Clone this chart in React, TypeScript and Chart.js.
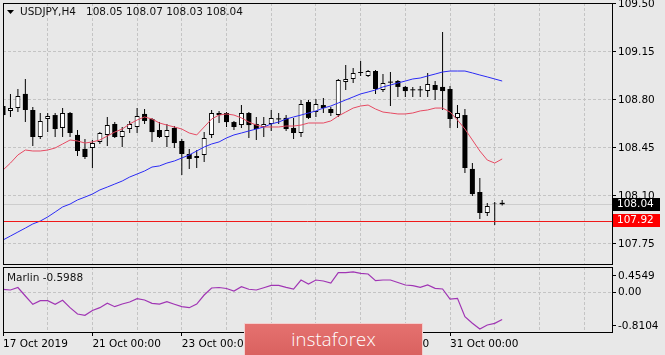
import React, { useEffect, useRef } from 'react';
import { Chart, registerables } from 'chart.js';

Chart.register(...registerables);

// ---------- data ----------
const symbolName = 'USDJPY,H4';
const headerOHLC = ['108.05', '108.07', '108.03', '108.04'];
const bidPrice = 108.04;
const levelPrice = 107.92;
const indicatorName = 'Marlin';
const indicatorLast = '-0.5988';

const opens = [
  108.756, 108.72, 108.741, 108.844, 108.727, 108.53, 108.661, 108.69, 108.596, 108.705,
  108.545, 108.443, 108.45, 108.494, 108.545, 108.625, 108.53, 108.588, 108.603, 108.698,
  108.661, 108.581, 108.53, 108.596, 108.501, 108.406, 108.377, 108.399, 108.545, 108.705,
  108.705, 108.639, 108.617, 108.705, 108.625, 108.603, 108.625, 108.661, 108.669, 108.596,
  108.559, 108.785, 108.712, 108.763, 108.734, 108.69, 108.931, 108.953, 109.004, 108.975,
  109.011, 108.873, 108.931, 108.938, 108.895, 108.875, 108.873, 108.865, 108.909, 108.895,
  108.88, 108.669, 108.69, 108.297, 108.129, 107.976, 108.041, 108.05,
];
const highs = [
  108.771, 108.844, 108.88, 108.953, 108.749, 108.705, 108.705, 108.705, 108.741, 108.712,
  108.581, 108.515, 108.508, 108.566, 108.676, 108.639, 108.603, 108.647, 108.741, 108.734,
  108.669, 108.639, 108.625, 108.61, 108.515, 108.443, 108.435, 108.566, 108.727, 108.72,
  108.712, 108.647, 108.763, 108.712, 108.676, 108.676, 108.727, 108.705, 108.69, 108.669,
  108.8, 108.8, 108.807, 108.814, 108.749, 108.953, 109.055, 109.033, 109.084, 109.019,
  109.019, 108.989, 109.004, 108.946, 108.902, 108.895, 108.902, 108.997, 108.938, 109.296,
  108.902, 108.763, 108.734, 108.34, 108.231, 108.049, 108.056, 108.07,
];
const lows = [
  108.676, 108.676, 108.712, 108.639, 108.464, 108.515, 108.566, 108.53, 108.53, 108.53,
  108.391, 108.37, 108.304, 108.479, 108.464, 108.523, 108.457, 108.559, 108.559, 108.625,
  108.494, 108.523, 108.457, 108.45, 108.253, 108.297, 108.304, 108.348, 108.523, 108.632,
  108.603, 108.581, 108.596, 108.523, 108.508, 108.53, 108.574, 108.625, 108.574, 108.515,
  108.53, 108.661, 108.676, 108.705, 108.683, 108.676, 108.873, 108.924, 108.975, 108.968,
  108.844, 108.858, 108.756, 108.822, 108.822, 108.822, 108.822, 108.822, 108.8, 108.727,
  108.596, 108.596, 108.267, 108.1, 107.932, 107.954, 107.888, 108.03,
];
const closes = [
  108.69, 108.741, 108.829, 108.727, 108.53, 108.647, 108.683, 108.588, 108.705, 108.559,
  108.428, 108.384, 108.486, 108.559, 108.617, 108.53, 108.574, 108.625, 108.683, 108.647,
  108.566, 108.53, 108.581, 108.486, 108.406, 108.37, 108.391, 108.523, 108.705, 108.69,
  108.639, 108.603, 108.705, 108.617, 108.588, 108.625, 108.669, 108.663, 108.588, 108.559,
  108.771, 108.669, 108.771, 108.741, 108.705, 108.946, 108.953, 108.997, 108.997, 109.011,
  108.88, 108.924, 108.929, 108.895, 108.865, 108.873, 108.875, 108.916, 108.873, 108.865,
  108.661, 108.705, 108.304, 108.114, 107.976, 108.027, 108.045, 108.04,
];
const maFast = [
  108.289, 108.34, 108.399, 108.435, 108.428, 108.428, 108.435, 108.45, 108.479, 108.508,
  108.501, 108.486, 108.494, 108.508, 108.537, 108.566, 108.588, 108.625, 108.654, 108.676,
  108.661, 108.632, 108.617, 108.603, 108.588, 108.559, 108.545, 108.603, 108.661, 108.69,
  108.698, 108.69, 108.669, 108.639, 108.617, 108.603, 108.603, 108.603, 108.61, 108.61,
  108.617, 108.632, 108.632, 108.632, 108.647, 108.683, 108.712, 108.741, 108.756, 108.763,
  108.734, 108.712, 108.705, 108.698, 108.698, 108.705, 108.72, 108.727, 108.741, 108.741,
  108.712, 108.654, 108.588, 108.508, 108.428, 108.362, 108.34, 108.37,
];
const maSlow = [
  107.779, 107.808, 107.837, 107.866, 107.896, 107.917, 107.947, 107.983, 108.02, 108.041,
  108.071, 108.092, 108.114, 108.144, 108.165, 108.187, 108.209, 108.238, 108.26, 108.282,
  108.311, 108.319, 108.34, 108.355, 108.377, 108.399, 108.428, 108.457, 108.479, 108.494,
  108.523, 108.545, 108.559, 108.574, 108.588, 108.603, 108.625, 108.639, 108.661, 108.676,
  108.69, 108.705, 108.72, 108.741, 108.756, 108.778, 108.8, 108.822, 108.844, 108.858,
  108.873, 108.895, 108.909, 108.924, 108.938, 108.953, 108.96, 108.975, 108.989, 109.004,
  109.011, 109.011, 109.011, 108.997, 108.982, 108.968, 108.953, 108.938,
];
const marlin = [
  0.069, 0.053, 0.108, -0.08, -0.263, -0.184, -0.184, -0.263, -0.175, -0.338,
  -0.478, -0.507, -0.4, -0.338, -0.241, -0.316, -0.257, -0.212, -0.139, -0.168,
  -0.241, -0.257, -0.206, -0.263, -0.316, -0.338, -0.257, -0.058, 0.097, 0.108,
  0.086, 0.031, 0.126, 0.069, 0.053, 0.104, 0.157, 0.157, 0.113, 0.075,
  0.274, 0.186, 0.274, 0.252, 0.208, 0.436, 0.436, 0.4549, 0.423, 0.407,
  0.259, 0.274, 0.274, 0.219, 0.164, 0.148, 0.113, 0.164, 0.091, 0.075,
  -0.146, -0.131, -0.538, -0.684, -0.8104, -0.721, -0.684, -0.5988,
];

const timeTickBars = [0, 12, 24, 36, 48, 60];
const timeTickLabels = ['17 Oct 2019', '21 Oct 00:00', '23 Oct 00:00', '25 Oct 00:00', '29 Oct 00:00', '31 Oct 00:00'];
const gridBars = [0, 6, 12, 18, 24, 30, 36, 42, 48, 54, 60, 66, 72, 78];
const priceTicks = [107.75, 108.1, 108.45, 108.8, 109.15, 109.5];
const marlinTickValues = [0.363, 0, -0.743];
const marlinTickLabels = ['0.4549', '0.00', '-0.8104'];

// ---------- view settings ----------
const X_MAX = 81.74;
const PRICE_MIN = 107.604;
const PRICE_MAX = 109.507;
const MARLIN_MIN = -0.876;
const MARLIN_MAX = 0.562;

const FONT = "'DejaVu Sans', sans-serif";
const FONT_SIZE = 10.5;
const BG = '#e8e8e8';
const GRID = '#c4c4c4';
const RED_MA = '#e64a62';
const BLUE_MA = '#2b2bf5';
const MARLIN_COLOR = '#a035b4';

const barIdx = opens.map((_, i) => i);

function frame(chart: any) {
  const { ctx, chartArea: ca } = chart;
  ctx.save();
  ctx.strokeStyle = '#000';
  ctx.lineWidth = 1;
  ctx.strokeRect(ca.left + 0.5, ca.top + 0.5, ca.right - ca.left, ca.bottom - ca.top);
  ctx.restore();
}

const mainDecor = {
  id: 'mainDecor',
  beforeDatasetsDraw(chart: any) {
    const { ctx, chartArea: ca, scales } = chart;
    const yb = Math.round(scales.y.getPixelForValue(bidPrice)) + 0.5;
    ctx.save();
    ctx.strokeStyle = '#cdcdcd';
    ctx.lineWidth = 1;
    ctx.beginPath();
    ctx.moveTo(ca.left, yb);
    ctx.lineTo(ca.right, yb);
    ctx.stroke();
    ctx.restore();
  },
  afterDatasetsDraw(chart: any) {
    const { ctx, chartArea: ca, scales } = chart;
    const yl = Math.round(scales.y.getPixelForValue(levelPrice)) + 0.5;
    ctx.save();
    ctx.strokeStyle = '#f01818';
    ctx.lineWidth = 1;
    ctx.beginPath();
    ctx.moveTo(ca.left, yl);
    ctx.lineTo(ca.right, yl);
    ctx.stroke();
    ctx.restore();
  },
  afterDraw(chart: any) {
    const { ctx, chartArea: ca, scales } = chart;
    frame(chart);
    ctx.save();
    // header
    ctx.fillStyle = '#000';
    ctx.beginPath();
    ctx.moveTo(7, 10);
    ctx.lineTo(14, 10);
    ctx.lineTo(10.5, 14);
    ctx.closePath();
    ctx.fill();
    ctx.font = `${FONT_SIZE}px ${FONT}`;
    ctx.textBaseline = 'middle';
    ctx.textAlign = 'left';
    ctx.fillStyle = '#111';
    ctx.fillText(symbolName, 20, 12.5);
    ctx.fillText(headerOHLC.join(' '), 86, 12.5);
    // price boxes
    const boxes = [
      { v: bidPrice, bg: '#000', text: bidPrice.toFixed(2) },
      { v: levelPrice, bg: '#ff0000', text: levelPrice.toFixed(2) },
    ];
    for (const b of boxes) {
      const yc = scales.y.getPixelForValue(b.v);
      ctx.fillStyle = b.bg;
      ctx.fillRect(ca.right + 1, Math.round(yc - 6.5), 47, 13);
      ctx.fillStyle = '#fff';
      ctx.fillText(b.text, ca.right + 5, yc);
    }
    ctx.restore();
  },
};

const subDecor = {
  id: 'subDecor',
  afterDraw(chart: any) {
    const { ctx, chartArea: ca } = chart;
    frame(chart);
    ctx.save();
    ctx.font = `${FONT_SIZE}px ${FONT}`;
    ctx.textBaseline = 'middle';
    ctx.textAlign = 'left';
    ctx.fillStyle = '#111';
    ctx.fillText(`${indicatorName} ${indicatorLast}`, ca.left + 4, ca.top + 11);
    ctx.restore();
  },
};

function isDoji(i: number) {
  return Math.abs(opens[i] - closes[i]) < 0.004;
}

function buildMainConfig(): any {
  const wickData = barIdx.map((i) => ({ x: i, y: [lows[i], highs[i]] }));
  const bodyData = barIdx.map((i) => {
    let a = Math.min(opens[i], closes[i]);
    let b = Math.max(opens[i], closes[i]);
    if (isDoji(i)) {
      const m = (a + b) / 2;
      a = m - 0.0036;
      b = m + 0.0036;
    }
    return { x: i, y: [a, b] };
  });
  const bodyFill = barIdx.map((i) => (!isDoji(i) && closes[i] > opens[i] ? '#ffffff' : '#000000'));
  const bodyBorder = barIdx.map((i) => (!isDoji(i) && closes[i] > opens[i] ? 1 : 0));

  return {
    type: 'bar',
    data: {
      datasets: [
        {
          type: 'line',
          data: barIdx.map((i) => ({ x: i, y: maFast[i] })),
          borderColor: RED_MA,
          borderWidth: 1,
          pointRadius: 0,
          tension: 0,
          order: 0,
        },
        {
          type: 'line',
          data: barIdx.map((i) => ({ x: i, y: maSlow[i] })),
          borderColor: BLUE_MA,
          borderWidth: 1,
          pointRadius: 0,
          tension: 0,
          order: 0,
        },
        {
          type: 'bar',
          data: bodyData,
          backgroundColor: bodyFill,
          borderColor: '#000',
          borderWidth: bodyBorder,
          borderSkipped: false,
          barThickness: 5,
          grouped: false,
          inflateAmount: 0,
          order: 1,
        },
        {
          type: 'bar',
          data: wickData,
          backgroundColor: '#000',
          borderWidth: 0,
          barThickness: 1,
          grouped: false,
          inflateAmount: 0,
          order: 2,
        },
      ],
    },
    options: {
      animation: false,
      responsive: false,
      maintainAspectRatio: false,
      layout: { padding: { left: 3, top: 3, right: 0, bottom: 2 } },
      plugins: { legend: { display: false }, tooltip: { enabled: false } },
      scales: {
        x: {
          type: 'linear',
          min: 0,
          max: X_MAX,
          offset: false,
          afterBuildTicks: (s: any) => {
            s.ticks = gridBars.map((v) => ({ value: v }));
          },
          afterFit: (s: any) => {
            s.height = 0;
            s.paddingLeft = 0;
            s.paddingRight = 0;
          },
          ticks: { display: false },
          grid: { color: GRID, lineWidth: 1, drawTicks: false, offset: false },
          border: { display: false, dash: [3, 2] },
        },
        y: {
          type: 'linear',
          position: 'right',
          min: PRICE_MIN,
          max: PRICE_MAX,
          afterBuildTicks: (s: any) => {
            s.ticks = priceTicks.map((v) => ({ value: v }));
          },
          afterFit: (s: any) => {
            s.width = 53;
            s.paddingTop = 0;
            s.paddingBottom = 0;
          },
          ticks: {
            callback: (v: number) => Number(v).toFixed(2),
            color: '#000',
            font: { family: FONT, size: FONT_SIZE },
            padding: 2,
          },
          grid: { color: GRID, tickColor: '#000', tickLength: 4, lineWidth: 1 },
          border: { display: false, dash: [3, 2] },
        },
      },
    },
    plugins: [mainDecor],
  };
}

function buildSubConfig(): any {
  return {
    type: 'line',
    data: {
      datasets: [
        {
          data: barIdx.map((i) => ({ x: i, y: marlin[i] })),
          borderColor: MARLIN_COLOR,
          borderWidth: 1.2,
          pointRadius: 0,
          tension: 0,
        },
      ],
    },
    options: {
      animation: false,
      responsive: false,
      maintainAspectRatio: false,
      layout: { padding: { left: 3, top: 3, right: 0, bottom: 0 } },
      plugins: { legend: { display: false }, tooltip: { enabled: false } },
      scales: {
        x: {
          type: 'linear',
          min: 0,
          max: X_MAX,
          offset: false,
          afterBuildTicks: (s: any) => {
            s.ticks = gridBars.map((v) => ({ value: v }));
          },
          afterFit: (s: any) => {
            s.height = 23;
            s.paddingLeft = 0;
            s.paddingRight = 0;
          },
          ticks: {
            autoSkip: false,
            maxRotation: 0,
            minRotation: 0,
            align: 'start',
            padding: 2,
            color: '#000',
            font: { family: FONT, size: FONT_SIZE },
            callback: (v: number) => {
              const k = timeTickBars.indexOf(Math.round(Number(v)));
              return k >= 0 ? timeTickLabels[k] : '';
            },
          },
          grid: {
            color: GRID,
            lineWidth: 1,
            offset: false,
            tickLength: 4,
            tickColor: (c: any) =>
              c.tick && timeTickBars.indexOf(Math.round(c.tick.value)) >= 0 ? '#000' : 'rgba(0,0,0,0)',
          },
          border: { display: false, dash: [3, 2] },
        },
        y: {
          type: 'linear',
          position: 'right',
          min: MARLIN_MIN,
          max: MARLIN_MAX,
          afterBuildTicks: (s: any) => {
            s.ticks = marlinTickValues.map((v) => ({ value: v }));
          },
          afterFit: (s: any) => {
            s.width = 53;
            s.paddingTop = 0;
            s.paddingBottom = 0;
          },
          ticks: {
            color: '#000',
            font: { family: FONT, size: FONT_SIZE },
            padding: 2,
            callback: (v: number, i: number) => marlinTickLabels[i] ?? '',
          },
          grid: {
            color: (c: any) => (c.tick && c.tick.value === 0 ? GRID : 'rgba(0,0,0,0)'),
            tickColor: '#000',
            tickLength: 4,
            lineWidth: 1,
          },
          border: { display: false, dash: [3, 2] },
        },
      },
    },
    plugins: [subDecor],
  };
}

export default function App() {
  const mainRef = useRef<HTMLCanvasElement>(null);
  const subRef = useRef<HTMLCanvasElement>(null);

  useEffect(() => {
    document.body.style.margin = '0';
    const c1 = new Chart(mainRef.current as HTMLCanvasElement, buildMainConfig());
    const c2 = new Chart(subRef.current as HTMLCanvasElement, buildSubConfig());
    return () => {
      c1.destroy();
      c2.destroy();
    };
  }, []);

  return (
    <div
      style={{
        position: 'fixed',
        left: 0,
        top: 0,
        width: 665,
        height: 355,
        background: BG,
        overflow: 'hidden',
      }}
    >
      <canvas ref={mainRef} width={665} height={266} style={{ position: 'absolute', left: 0, top: 0 }} />
      <canvas ref={subRef} width={665} height={91} style={{ position: 'absolute', left: 0, top: 264 }} />
      <div
        style={{
          position: 'absolute',
          left: 244,
          top: 323,
          width: 179,
          height: 34,
          boxSizing: 'border-box',
          border: '1px solid #f3cfcf',
          background: 'linear-gradient(#e5716f, #d9615f)',
          color: '#fff',
          fontFamily: "'Open Sans', 'Noto Sans', sans-serif",
          fontWeight: 300,
          fontSize: 18.5,
          lineHeight: '29px',
          textAlign: 'center',
          letterSpacing: 0.2,
        }}
      >
        instaforex
      </div>
    </div>
  );
}
